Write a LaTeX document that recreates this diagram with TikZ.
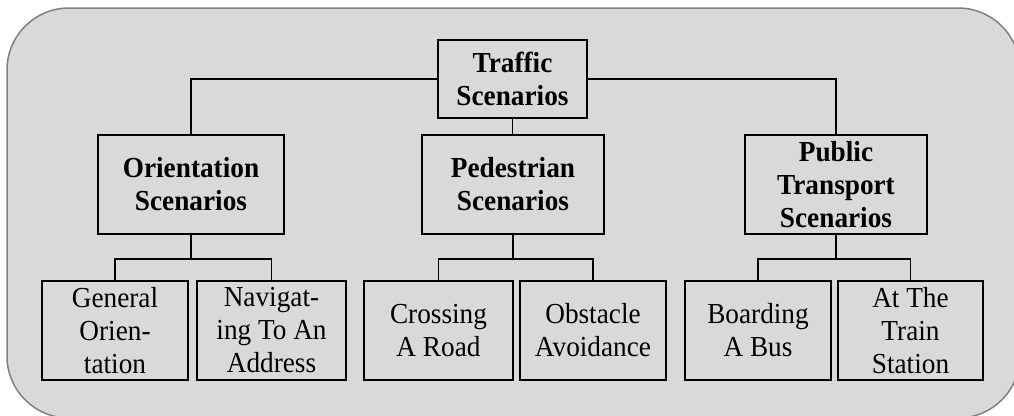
\documentclass[tikz,border=0pt]{standalone}
\usepackage{fontspec}
\setmainfont{Liberation Serif}[FakeStretch=0.94]
\begin{document}
\begin{tikzpicture}[x=1pt,y=-1pt,
  box/.style={draw=black,line width=1.6pt,inner sep=0pt,align=center,
    font=\fontsize{29}{33}\selectfont},
  topbox/.style={box,font=\fontsize{29}{33}\selectfont\bfseries},
  conn/.style={draw=black,line width=1.5pt}]
\useasboundingbox (0,0) rectangle (1014,415);
\clip (0,0) rectangle (1014,415);
\path[fill={rgb,255:red,217;green,217;blue,217},draw={rgb,255:red,128;green,128;blue,128},line width=1.5pt,rounded corners=62pt]
  (7,8) rectangle (1020,418);
\node[topbox,minimum width=149pt,minimum height=78pt] (traffic) at (512.5,79) {Traffic\\Scenarios};
\node[topbox,minimum width=186pt,minimum height=99pt] (orient) at (191,184.5) {Orientation\\Scenarios};
\node[topbox,minimum width=182pt,minimum height=99pt] (ped) at (513,184.5) {Pedestrian\\Scenarios};
\node[topbox,minimum width=182pt,minimum height=99pt] (pub) at (836,184.5) {Public\\Transport\\Scenarios};
\node[box,minimum width=146pt,minimum height=99pt] (gen) at (115,330.5) {General\\Orien-\\tation};
\node[box,minimum width=149pt,minimum height=99pt] (nav) at (271.5,330.5) {Navigat-\\ing To An\\Address};
\node[box,minimum width=149pt,minimum height=99pt] (cross) at (438.5,330.5) {Crossing\\A Road};
\node[box,minimum width=146pt,minimum height=99pt] (obst) at (593,330.5) {Obstacle\\Avoidance};
\node[box,minimum width=146pt,minimum height=99pt] (board) at (758,330.5) {Boarding\\A Bus};
\node[box,minimum width=145pt,minimum height=99pt] (train) at (910.5,330.5) {At The\\Train\\Station};
\draw[conn] (traffic.west) -| (orient.north);
\draw[conn] (traffic.east) -| (pub.north);
\draw[conn] (traffic.south) -- (traffic.south |- ped.north);
\draw[conn] (orient.south) -- ++(0,24) -| (gen.north);
\draw[conn] (orient.south) -- ++(0,24) -| (nav.north);
\draw[conn] (ped.south) -- ++(0,24) -| (cross.north);
\draw[conn] (ped.south) -- ++(0,24) -| (obst.north);
\draw[conn] (pub.south) -- ++(0,24) -| (board.north);
\draw[conn] (pub.south) -- ++(0,24) -| (train.north);
\end{tikzpicture}
\end{document}
